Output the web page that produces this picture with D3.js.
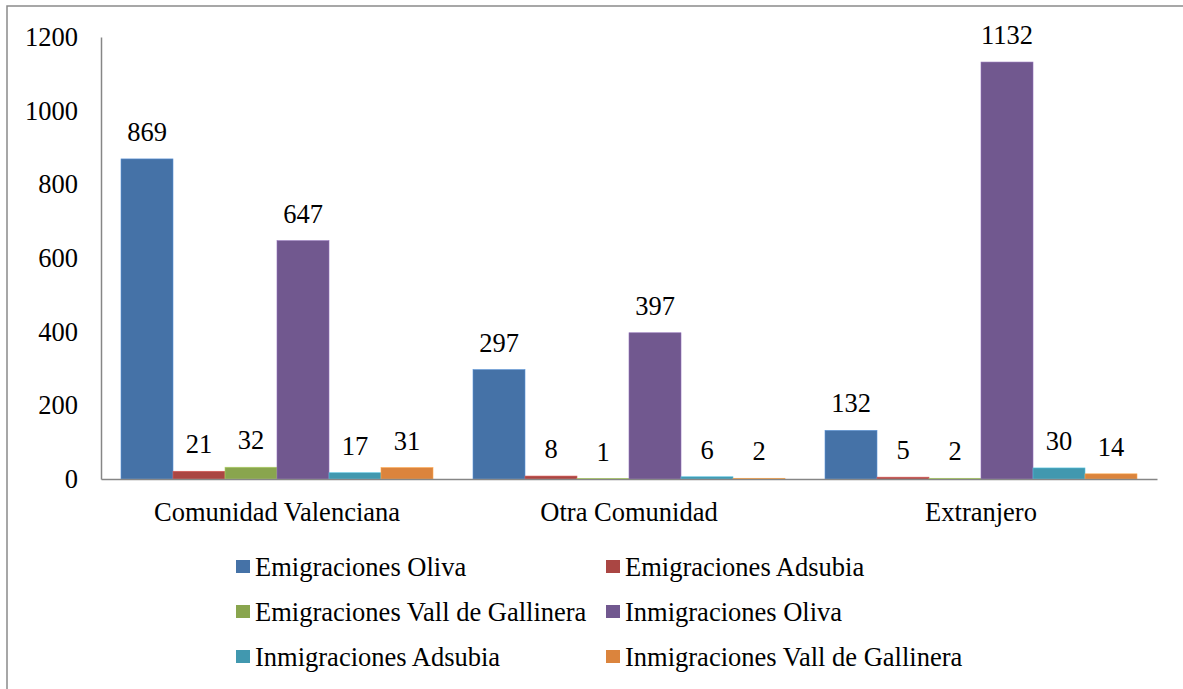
<!DOCTYPE html>
<html>
<head>
<meta charset="utf-8">
<script src="https://cdn.jsdelivr.net/npm/d3@7"></script>
<style>
  html, body { margin: 0; padding: 0; background: #fff; }
  svg { display: block; }
  svg text { font-family: "Liberation Serif", "Tinos", "DejaVu Serif", "Noto Serif", serif !important; fill: #000; }
</style>
</head>
<body>
<svg id="chart" width="1183" height="689"></svg>
<script>
// Migration flows by origin/destination
const categories = ["Comunidad Valenciana", "Otra Comunidad", "Extranjero"];
const seriesNames = [
  "Emigraciones Oliva",
  "Emigraciones Adsubia",
  "Emigraciones Vall de Gallinera",
  "Inmigraciones Oliva",
  "Inmigraciones Adsubia",
  "Inmigraciones Vall de Gallinera"
];
const emigracionesOliva = [869, 297, 132];
const emigracionesAdsubia = [21, 8, 5];
const emigracionesVall = [32, 1, 2];
const inmigracionesOliva = [647, 397, 1132];
const inmigracionesAdsubia = [17, 6, 30];
const inmigracionesVall = [31, 2, 14];
const yTicks = [0, 200, 400, 600, 800, 1000, 1200];
const colors = ["#4572A7", "#AA4643", "#89A54E", "#71588F", "#4198AF", "#DB843D"];

const seriesValues = [
  emigracionesOliva, emigracionesAdsubia, emigracionesVall,
  inmigracionesOliva, inmigracionesAdsubia, inmigracionesVall
];

const FONT = '"Liberation Serif", "Tinos", "DejaVu Serif", "Noto Serif", serif';
const FS = 26.5;

const svg = d3.select("#chart");
const W = 1183, H = 689;

// outer frame
svg.append("rect")
  .attr("x", 7).attr("y", 6)
  .attr("width", W + 10).attr("height", H + 10)
  .attr("fill", "none").attr("stroke", "#8a8a8a").attr("stroke-width", 1.5);

const plot = { left: 101, right: 1157, top: 37, bottom: 479 };

const x0 = d3.scaleBand()
  .domain(categories)
  .range([plot.left, plot.right])
  .paddingInner(0).paddingOuter(0);

const bandInnerPad = 20;
const x1 = d3.scaleBand()
  .domain(d3.range(seriesNames.length))
  .range([bandInnerPad, x0.bandwidth() - bandInnerPad])
  .padding(0);

const y = d3.scaleLinear().domain([0, 1200]).range([plot.bottom, plot.top]);

// y axis labels
const yAxis = d3.axisLeft(y).tickValues(yTicks).tickFormat(d3.format("d")).tickSize(0).tickPadding(23);
const gy = svg.append("g").attr("transform", `translate(${plot.left},0)`).call(yAxis)
  .attr("font-family", FONT).attr("font-size", FS);
gy.select(".domain").attr("stroke", "#868686").attr("stroke-width", 1.5);
gy.selectAll("text").attr("fill", "#000");

// bars
const groups = svg.append("g").selectAll("g")
  .data(categories)
  .join("g")
  .attr("transform", d => `translate(${x0(d)},0)`);

groups.selectAll("rect")
  .data((c, ci) => seriesValues.map((vals, si) => ({ si, v: vals[ci] })))
  .join("rect")
  .attr("x", d => x1(d.si))
  .attr("y", d => y(d.v))
  .attr("width", x1.bandwidth())
  .attr("height", d => y(0) - y(d.v))
  .attr("fill", d => colors[d.si])
  .attr("stroke", d => d3.color(colors[d.si]).brighter(0.7))
  .attr("stroke-width", 0.6);

// value labels
groups.selectAll("text.val")
  .data((c, ci) => seriesValues.map((vals, si) => ({ si, v: vals[ci] })))
  .join("text")
  .attr("class", "val")
  .attr("x", d => x1(d.si) + x1.bandwidth() / 2)
  .attr("y", d => y(d.v) - 18)
  .attr("text-anchor", "middle")
  .attr("font-family", FONT)
  .attr("font-size", FS)
  .text(d => d.v);

// x axis
const xAxis = d3.axisBottom(x0).tickSize(0).tickPadding(23);
const gx = svg.append("g").attr("transform", `translate(0,${plot.bottom})`).call(xAxis)
  .attr("font-family", FONT).attr("font-size", FS);
gx.select(".domain").attr("stroke", "#868686").attr("stroke-width", 1.5);
gx.selectAll("text").attr("fill", "#000");

// legend
const legendCols = [236, 606];
const legendRows = [566.5, 611.5, 656.5];
const legend = svg.append("g").selectAll("g")
  .data(seriesNames)
  .join("g")
  .attr("transform", (d, i) => `translate(${legendCols[i % 2]},${legendRows[Math.floor(i / 2)]})`);

legend.append("rect")
  .attr("x", 0).attr("y", -6.5)
  .attr("width", 14).attr("height", 13)
  .attr("fill", (d, i) => colors[i]);

legend.append("text")
  .attr("x", 19).attr("y", 0)
  .attr("dy", "0.35em")
  .attr("font-family", FONT)
  .attr("font-size", FS)
  .text(d => d);
</script>
</body>
</html>
